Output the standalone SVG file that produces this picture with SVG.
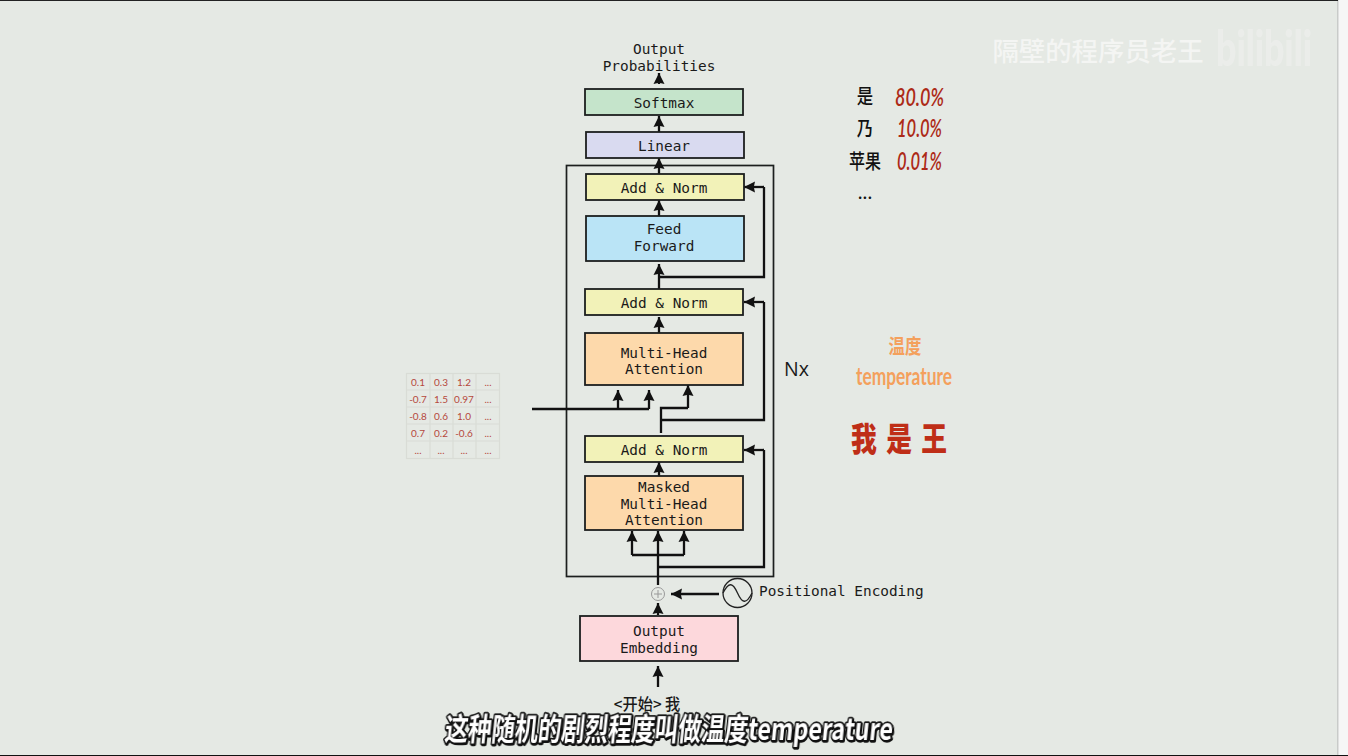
<svg xmlns="http://www.w3.org/2000/svg" width="1348" height="756" viewBox="0 0 1348 756">
<style>
.b{stroke:#1c1f1e;stroke-width:1.8}
.m{font-family:"DejaVu Sans Mono","Liberation Mono",monospace;font-size:14.4px;fill:#1a1a1a;text-anchor:middle}
.c{fill:none;stroke:#111;stroke-width:2.300}
.g{font-family:"Lato","Liberation Sans",Arial,sans-serif;font-size:10px;fill:#b5483c;text-anchor:middle}
.gd{fill:none;stroke:#d9dcd6;stroke-width:1.200}
.z{font-family:"Noto Sans CJK SC",sans-serif;font-weight:500;text-anchor:middle}
.r{font-family:"Lato","Noto Sans CJK SC",sans-serif;font-style:italic;font-weight:600;font-size:25px;fill:#ad2a17;text-anchor:middle}
</style>
<defs>
<marker id="a" markerUnits="userSpaceOnUse" markerWidth="12" markerHeight="12" refX="11" refY="6" orient="auto"><path d="M0 .5L11 6L0 11.500L1.200 6Z" fill="#111"/></marker>
</defs>
<rect width="1348" height="756" fill="#e5e9e4"/>
<rect x="1338" width="10" height="756" fill="#f6f6f6"/>
<rect x="1337" width="1.500" height="756" fill="#c9cbc9"/>
<rect y="0" width="1338" height="1" fill="#222"/>
<rect y="755" width="1348" height="1" fill="#111"/>

<g id="watermark">
<text x="1098" y="61" font-family="'Noto Sans CJK SC',sans-serif" font-size="26.400" font-weight="500" fill="#f4f5f3" text-anchor="middle">隔壁的程序员老王</text>
<text x="1264" y="66" font-family="'Lato',sans-serif" font-size="50" font-weight="900" fill="#eeefed" opacity=".75" text-anchor="middle" textLength="96" lengthAdjust="spacingAndGlyphs">bilibili</text>
</g>

<rect id="frame" x="566.500" y="165.500" width="207" height="411" fill="none" stroke="#1c1f1e" stroke-width="1.700"/>

<g id="connectors">
<path class="c" marker-end="url(#a)" d="M659 84V73"/>
<path class="c" marker-end="url(#a)" d="M659 132V116"/>
<path class="c" marker-end="url(#a)" d="M659 174V158"/>
<path class="c" marker-end="url(#a)" d="M659 216V200"/>
<path class="c" marker-end="url(#a)" d="M659 289V264"/>
<path class="c" d="M659 277H764V187"/>
<path class="c" marker-end="url(#a)" d="M764 187H744"/>
<path class="c" marker-end="url(#a)" d="M659 333V317"/>
<path class="c" d="M661 433V408H688"/>
<path class="c" marker-end="url(#a)" d="M688 408V385"/>
<path class="c" d="M661 420H764V302"/>
<path class="c" marker-end="url(#a)" d="M764 302H744"/>
<path class="c" d="M532 409H649"/>
<path class="c" marker-end="url(#a)" d="M618 409V390"/>
<path class="c" marker-end="url(#a)" d="M649 409V390"/>
<path class="c" marker-end="url(#a)" d="M659 476V462"/>
<path class="c" d="M764 450V567H658"/>
<path class="c" marker-end="url(#a)" d="M764 450H744"/>
<path class="c" marker-end="url(#a)" d="M658 585V531"/>
<path class="c" d="M632 555H684"/>
<path class="c" marker-end="url(#a)" d="M632 555V531"/>
<path class="c" marker-end="url(#a)" d="M684 555V531"/>
<path class="c" marker-end="url(#a)" d="M719 594H671"/>
<path class="c" marker-end="url(#a)" d="M658 615V603"/>
<path class="c" marker-end="url(#a)" d="M658 687V666"/>
</g>

<g id="output-probabilities"><text class="m" x="659" y="54">Output</text><text class="m" x="659" y="71">Probabilities</text></g>
<g id="softmax"><rect class="b" x="585" y="89" width="158" height="26" fill="#c5e4cb"/><text class="m" x="664" y="108">Softmax</text></g>
<g id="linear"><rect class="b" x="586" y="132" width="158" height="26" fill="#d9daf0"/><text class="m" x="664" y="151">Linear</text></g>
<g id="add-norm-3"><rect class="b" x="586" y="174" width="158" height="26" fill="#f2f2b8"/><text class="m" x="664" y="193">Add &amp; Norm</text></g>
<g id="feed-forward"><rect class="b" x="586" y="216" width="158" height="45" fill="#bae4f6"/><text class="m" x="664" y="234">Feed</text><text class="m" x="664" y="251">Forward</text></g>
<g id="add-norm-2"><rect class="b" x="585" y="289" width="158" height="26" fill="#f2f2b8"/><text class="m" x="664" y="308">Add &amp; Norm</text></g>
<g id="multi-head"><rect class="b" x="585" y="333" width="158" height="52" fill="#fdd9ab"/><text class="m" x="664" y="358">Multi-Head</text><text class="m" x="664" y="374">Attention</text></g>
<g id="add-norm-1"><rect class="b" x="585" y="436" width="158" height="26" fill="#f2f2b8"/><text class="m" x="664" y="455">Add &amp; Norm</text></g>
<g id="masked-multi-head"><rect class="b" x="585" y="476" width="158" height="54" fill="#fdd9ab"/><text class="m" x="664" y="492">Masked</text><text class="m" x="664" y="509">Multi-Head</text><text class="m" x="664" y="525">Attention</text></g>
<g id="plus"><circle cx="658" cy="594" r="6.500" fill="#e5e9e4" stroke="#999" stroke-width="1"/><path d="M654 594H662M658 590V598" stroke="#999" stroke-width="1"/></g>
<g id="positional-encoding"><circle cx="737.500" cy="593" r="14.500" fill="none" stroke="#222" stroke-width="1.300"/><path d="M723 593C729 581 733 583 737.500 593S746 605 752 593" fill="none" stroke="#222" stroke-width="1.300"/><text class="m" x="759" y="596" style="text-anchor:start">Positional Encoding</text></g>
<g id="output-embedding"><rect class="b" x="580" y="616" width="158" height="45" fill="#fdd8dc"/><text class="m" x="659" y="636">Output</text><text class="m" x="659" y="653">Embedding</text></g>
<text id="nx" x="784" y="376" font-family="'Open Sans','Liberation Sans',sans-serif" font-size="19.500" font-weight="500" fill="#1a1a1a">Nx</text>

<g id="matrix">
<rect x="406.500" y="373.500" width="93" height="85" class="gd"/>
<path class="gd" d="M430 373V458M453 373V458M476 373V458M406 390H500M406 407H500M406 424H500M406 441H500"/>
<text class="g" x="418" y="386">0.1</text><text class="g" x="441" y="386">0.3</text><text class="g" x="464" y="386">1.2</text><text class="g" x="488" y="386">...</text>
<text class="g" x="418" y="403">-0.7</text><text class="g" x="441" y="403">1.5</text><text class="g" x="464" y="403">0.97</text><text class="g" x="488" y="403">...</text>
<text class="g" x="418" y="420">-0.8</text><text class="g" x="441" y="420">0.6</text><text class="g" x="464" y="420">1.0</text><text class="g" x="488" y="420">...</text>
<text class="g" x="418" y="437">0.7</text><text class="g" x="441" y="437">0.2</text><text class="g" x="464" y="437">-0.6</text><text class="g" x="488" y="437">...</text>
<text class="g" x="418" y="454">...</text><text class="g" x="441" y="454">...</text><text class="g" x="464" y="454">...</text><text class="g" x="488" y="454">...</text>
</g>

<g id="probabilities">
<text class="z" transform="translate(865 104) scale(.82 1)" font-size="20" fill="#111">是</text>
<text class="z" transform="translate(865 136) scale(.82 1)" font-size="20" fill="#111">乃</text>
<text class="z" transform="translate(865 169) scale(.8 1)" font-size="20" fill="#111">苹果</text>
<text class="z" x="865" y="199" font-size="16" fill="#111">...</text>
<text class="r" x="919.500" y="106" textLength="49" lengthAdjust="spacingAndGlyphs">80.0%</text>
<text class="r" x="919.500" y="137" textLength="45" lengthAdjust="spacingAndGlyphs">10.0%</text>
<text class="r" x="919.500" y="170" textLength="45" lengthAdjust="spacingAndGlyphs">0.01%</text>
</g>
<g id="temperature">
<text class="z" transform="translate(905 354) scale(.82 1)" font-size="20" fill="#f4a05c" style="font-weight:700">温度</text>
<text x="904" y="385" font-family="Lato,sans-serif" font-size="25" font-weight="700" fill="#f4a05c" text-anchor="middle" textLength="96" lengthAdjust="spacingAndGlyphs">temperature</text>
</g>
<text id="wo-shi-wang" class="z" transform="translate(899 451) scale(.78 1)" x="-45 0 45" font-size="33" fill="#bf2e17" style="font-weight:900">我是王</text>

<text id="input" transform="translate(647 710) scale(.95 1)" font-family="'Noto Sans CJK SC',sans-serif" font-size="16" font-weight="500" fill="#1a1a1a" text-anchor="middle">&lt;开始&gt; 我</text>
<text id="subtitle" transform="translate(668 740) skewX(-6)" font-family="'Noto Sans CJK SC',sans-serif" font-size="30" font-weight="700" fill="#fff" stroke="#111" stroke-width="3.500" paint-order="stroke" stroke-linejoin="round" text-anchor="middle" textLength="448" lengthAdjust="spacingAndGlyphs" style="filter:drop-shadow(1.500px 1.500px 0 #111)">这种随机的剧烈程度叫做温度temperature</text>
</svg>
